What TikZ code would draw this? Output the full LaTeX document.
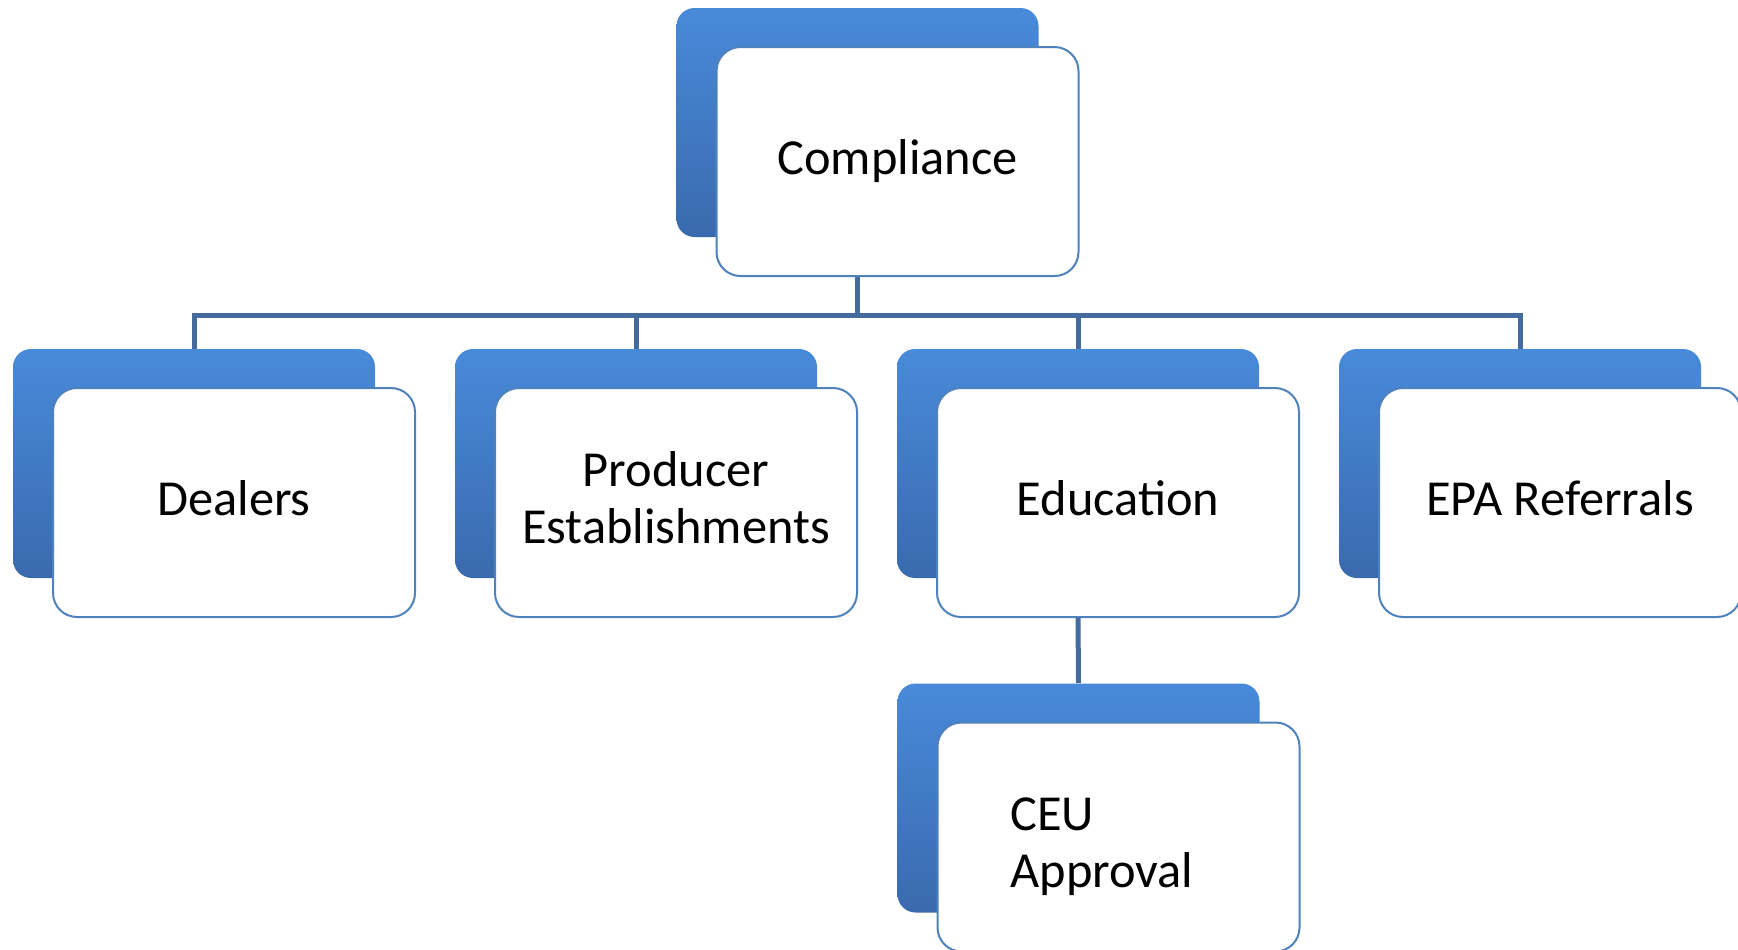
\documentclass[tikz,border=0pt]{standalone}
\usepackage{fontspec}
\setmainfont{Carlito}
\usepackage{tikz}
\definecolor{boxtop}{RGB}{72,138,218}
\definecolor{boxbot}{RGB}{58,106,174}
\definecolor{boxline}{RGB}{79,129,189}
\definecolor{linkline}{RGB}{68,106,158}

\begin{document}
\begin{tikzpicture}[x=0.5pt,y=0.5pt,
    backbox/.style={rounded corners=9pt,minimum width=181pt,minimum height=114.5pt,
        inner sep=0pt,top color=boxtop,bottom color=boxbot},
    frontbox/.style={draw=boxline,line width=1pt,fill=white,rounded corners=12pt,
        minimum width=181pt,minimum height=114.5pt,inner sep=0pt},
    tag/.style={inner sep=0pt,align=center,font=\fontsize{25.2}{28.5}\selectfont},
    link/.style={draw=linkline,line width=2.5pt}]
\useasboundingbox (0,0) rectangle (1738,-949);

    \node[backbox] (compliance-back) at (857.5,-122.5) {};
    \node[frontbox,label={[tag]center:Compliance}] (compliance)
        at ([shift={(40,-39)}]compliance-back.center) {};

    \foreach \n/\t [count=\i from 0] in {dealers/Dealers,producer/{Producer\\Establishments},
        education/Education,epa/EPA Referrals} {
        \node[backbox] (\n-back) at (194+442*\i,-463.5) {};
        \node[frontbox,label={[tag,yshift=2.2pt]center:\t}] (\n)
            at ([shift={(40,-39)}]\n-back.center) {};
    }

    \node[backbox] (ceu-back) at (1078.5,-798) {};
    \node[frontbox,label={[tag,text width=108pt,align=left,yshift=-5pt]center:CEU\\Approval}] (ceu)
        at ([shift={(40,-39)}]ceu-back.center) {};

    \coordinate (bus) at (0,-315);
    \draw[link] (compliance-back.center |- compliance.south) -- (compliance-back.center |- bus);
    \draw[link] (dealers-back.north) -- (dealers-back.north |- bus) -- (epa-back.north |- bus) -- (epa-back.north);
    \foreach \n in {producer,education}
        \draw[link] (\n-back.north |- bus) -- (\n-back.north);
    \draw[link] (education-back.center |- education.south) -- (ceu-back.north);

\end{tikzpicture}
\end{document}
